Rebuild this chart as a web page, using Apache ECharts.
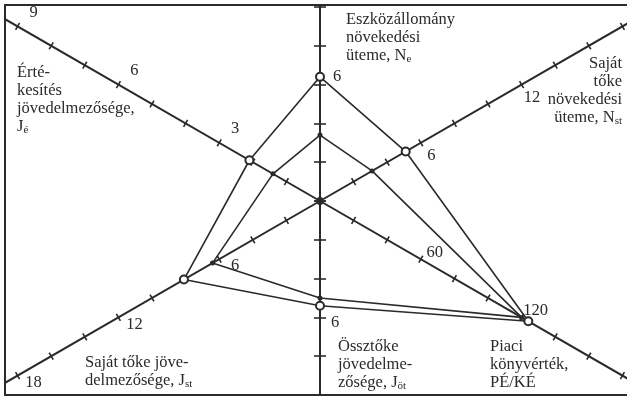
<!DOCTYPE html>
<html>
<head>
<meta charset="utf-8">
<script src="https://cdn.jsdelivr.net/npm/echarts@6/dist/echarts.min.js"></script>
<style>
  html, body { margin: 0; padding: 0; background: #fff; }
  #main { width: 627px; height: 399px; }
</style>
</head>
<body>
<div id="main"></div>
<script>
// axes, counter-clockwise from the top
const axisKeys = ['Ne', 'Je', 'Jst', 'Jot', 'PEKE', 'Nst']
const axisMax = [20, 10, 20, 20, 200, 20]
const labeledTicks = [[6], [3, 6, 9], [6, 12, 18], [6], [60, 120], [6, 12]]
const outerValues = [6.4, 2.1, 8.1, 5.4, 124, 5.1]
const innerValues = [3.4, 1.4, 6.4, 5.0, 120, 3.1]

const INK = '#2a2a2a'
const SERIF = '"Liberation Serif", "DejaVu Serif", serif'
const CENTER = [320, 201]
const RADIUS = 388

// label side (negative margin = clockwise side), nudges, tick size
const labelMargin = [-17, -16, 8, 15, 8, -15]
const labelPad = [[0, 0, 0, 0], [0, 0, 0, 16], [0, 0, 0, 24], [0, 0, 0, 0], [0, 0, 0, 20], [0, 0, 0, 6]]
const labelVAlign = ['bottom', 'middle', 'middle', 'top', 'middle', 'middle']
const labelLineH = [16, 18, 18, 10, 18, 18]
const tickLen = [6, 4, 4, 6, 4, 4]

const chart = echarts.init(document.getElementById('main'), null, { renderer: 'canvas' })

const indicatorFor = (withLabels, tickSign) => axisKeys.map((key, i) => ({
  name: key,
  min: 0,
  max: axisMax[i],
  axisTick: { length: tickSign * tickLen[i] },
  axisLabel: withLabels
    ? {
      show: true,
      margin: labelMargin[i],
      padding: labelPad[i],
      align: 'center',
      verticalAlign: labelVAlign[i],
      lineHeight: labelLineH[i],
      formatter: (v) => labeledTicks[i].indexOf(v) >= 0 ? String(v) : ''
    }
    : { show: false }
}))

const radarBase = {
  center: CENTER,
  radius: RADIUS,
  startAngle: 90,
  splitNumber: 10,
  shape: 'polygon',
  axisName: { show: false },
  splitLine: { show: false },
  splitArea: { show: false }
}

const subText = (x, y, text, align) => ({
  type: 'text',
  x: x,
  y: y,
  z: 110,
  style: {
    text: text,
    fill: INK,
    font: '16.5px ' + SERIF,
    lineHeight: 18,
    align: align || 'left',
    verticalAlign: 'top',
    rich: {
      s: { fontSize: 11, fontFamily: SERIF, fill: INK, lineHeight: 10, verticalAlign: 'bottom' }
    }
  }
})

chart.setOption({
  backgroundColor: '#ffffff',
  animation: false,
  radar: [
    Object.assign({}, radarBase, {
      indicator: indicatorFor(true, 1),
      axisLine: { show: true, lineStyle: { color: INK, width: 2 } },
      axisTick: { show: true, lineStyle: { color: INK, width: 1.6 } },
      axisLabel: {
        show: true,
        color: INK,
        fontFamily: SERIF,
        fontSize: 16.5
      }
    }),
    Object.assign({}, radarBase, {
      indicator: indicatorFor(false, -1),
      axisLine: { show: false },
      axisTick: { show: true, lineStyle: { color: INK, width: 1.6 } },
      axisLabel: { show: false }
    })
  ],
  series: [{
    type: 'radar',
    radarIndex: 0,
    z: 5,
    data: [
      {
        name: 'outer',
        value: outerValues,
        symbol: 'emptyCircle',
        symbolSize: 8,
        lineStyle: { color: INK, width: 1.6 },
        itemStyle: { color: INK, borderColor: INK, borderWidth: 1.6 }
      },
      {
        name: 'inner',
        value: innerValues,
        symbol: 'circle',
        symbolSize: 5,
        lineStyle: { color: INK, width: 1.6 },
        itemStyle: { color: INK }
      }
    ]
  }],
  graphic: [
    // white margin outside the printed frame
    { type: 'rect', z: 100, shape: { x: 0, y: 0, width: 627, height: 4 }, style: { fill: '#fff' } },
    { type: 'rect', z: 100, shape: { x: 0, y: 0, width: 4, height: 399 }, style: { fill: '#fff' } },
    { type: 'rect', z: 100, shape: { x: 0, y: 396, width: 627, height: 3 }, style: { fill: '#fff' } },
    { type: 'polyline', z: 101, shape: { points: [[627, 5], [5, 5], [5, 395], [627, 395]] }, style: { stroke: INK, lineWidth: 2, fill: null } },
    // axis titles
    subText(346, 11, 'Eszközállomány\nnövekedési\nüteme, N{s|e}'),
    subText(622, 55, 'Saját\ntőke\nnövekedési\nüteme, N{s|st}', 'right'),
    subText(17, 64, 'Érté-\nkesítés\njövedelmezősége,\nJ{s|é}'),
    subText(85, 354, 'Saját tőke jöve-\ndelmezősége, J{s|st}'),
    subText(338, 338, 'Össztőke\njövedelme-\nzősége, J{s|öt}'),
    subText(490, 338, 'Piaci\nkönyvérték,\nPÉ/KÉ')
  ]
})
</script>
</body>
</html>
